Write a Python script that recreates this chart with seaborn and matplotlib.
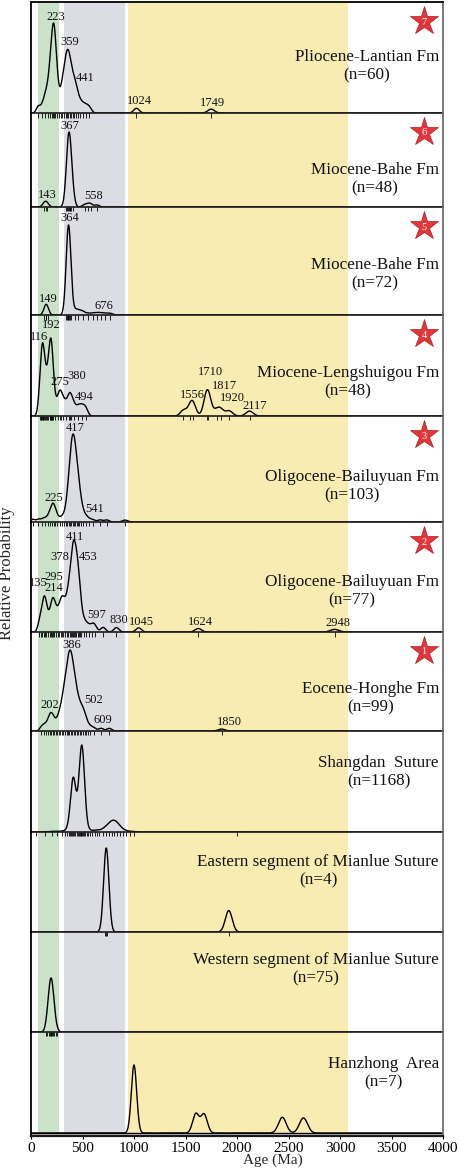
import numpy as np
import pandas as pd
import matplotlib
matplotlib.use("Agg")
import matplotlib.pyplot as plt
import seaborn as sns

sns.set_theme(style="white")
plt.rcParams["font.family"] = ["Liberation Serif", "DejaVu Serif"]

# ---------------------------------------------------------------------------
# Samples, top to bottom
# ---------------------------------------------------------------------------
SAMPLE_NAMES = [
    "Pliocene-Lantian Fm", "Miocene-Bahe Fm", "Miocene-Bahe Fm",
    "Miocene-Lengshuigou Fm", "Oligocene-Bailuyuan Fm", "Oligocene-Bailuyuan Fm",
    "Eocene-Honghe Fm", "Shangdan  Suture", "Eastern segment of Mianlue Suture",
    "Western segment of Mianlue Suture", "Hanzhong  Area",
]
GRAIN_TOTALS = [60, 48, 72, 48, 103, 77, 99, 1168, 4, 75, 7]
SITE_NUMBERS = ["7", "6", "5", "4", "3", "2", "1", None, None, None, None]

# Detrital zircon U-Pb ages (Ma) and number of grains at each age
LANTIAN_AGES = [70, 110, 140, 165, 185, 200, 212, 223, 237, 252, 270, 290, 305, 320,
                335, 350, 362, 375, 390, 405, 420, 438, 455, 475, 500, 530, 565,
                1024, 1749]
LANTIAN_COUNTS = [1, 1, 2, 2, 3, 3, 4, 5, 4, 2, 1, 1, 2, 2,
                  3, 3, 3, 3, 2, 2, 2, 2, 1, 1, 1, 1, 1,
                  1, 1]

BAHE_A_AGES = [125, 143, 160, 340, 352, 360, 367, 374, 382, 392, 405, 520, 558, 580, 640]
BAHE_A_COUNTS = [1, 1, 1, 2, 4, 7, 9, 7, 5, 4, 3, 1, 1, 1, 1]

BAHE_B_AGES = [130, 145, 150, 165, 340, 350, 357, 364, 370, 378, 388,
               430, 460, 500, 550, 600, 640, 676, 720, 770]
BAHE_B_COUNTS = [1, 2, 2, 1, 2, 5, 10, 16, 12, 6, 3,
                 2, 2, 2, 1, 1, 1, 1, 1, 1]

LENGSHUIGOU_AGES = [85, 95, 100, 108, 113, 118, 124, 140, 150, 158, 166, 180, 186, 190,
                    195, 201, 205, 212, 232, 265, 278, 290, 310, 335, 365, 378, 392,
                    420, 460, 494, 530,
                    1480, 1545, 1571, 1707, 1722, 1805, 1843, 1924, 2122]
LENGSHUIGOU_COUNTS = [1, 1, 1, 1, 2, 2, 1, 1, 1, 1, 1, 1, 1, 2,
                      2, 1, 1, 1, 1, 1, 1, 1, 1, 1, 1, 1, 1,
                      1, 1, 1, 1,
                      1, 1, 2, 3, 2, 1, 1, 1, 1]

BAILUYUAN_A_AGES = [20, 70, 110, 140, 165, 185, 205, 220, 235, 255, 280,
                    305, 320, 335, 350, 365, 380, 392, 405, 417, 430, 443, 456, 470,
                    485, 500, 530, 560, 600, 670, 735, 913]
BAILUYUAN_A_COUNTS = [1, 1, 1, 1, 1, 2, 3, 3, 2, 1, 1,
                      1, 1, 1, 3, 5, 8, 9, 10, 11, 8, 7, 6, 4,
                      3, 2, 2, 1, 1, 1, 1, 1]

BAILUYUAN_B_AGES = [80, 95, 110, 122, 135, 150, 165, 180, 195, 205, 214, 228, 245, 262,
                    275, 288, 300, 315, 330, 350, 362, 374, 386, 398, 408, 416, 428,
                    440, 452, 464, 476, 490, 510, 530, 560, 597, 620, 700, 830,
                    1045, 1624, 2948]
BAILUYUAN_B_COUNTS = [1, 1, 1, 2, 3, 1, 1, 1, 1, 1, 3, 1, 2, 1,
                      1, 2, 2, 2, 2, 2, 2, 3, 2, 3, 5, 4, 3,
                      4, 4, 3, 2, 1, 1, 1, 1, 1, 1, 1, 1,
                      1, 1, 1]

HONGHE_AGES = [100, 125, 145, 165, 180, 195, 210, 225, 240, 255, 270, 285, 300, 315,
               330, 345, 360, 373, 386, 400, 415, 430, 445, 460, 475, 490, 505, 520,
               535, 550, 575, 610, 680, 760, 1850]
HONGHE_COUNTS = [1, 1, 1, 1, 2, 2, 2, 1, 1, 1, 2, 2, 3, 4,
                 5, 6, 7, 7, 8, 7, 6, 5, 4, 3, 3, 2, 3, 2,
                 1, 1, 1, 1, 1, 1, 1]

SHANGDAN_AGES = [50, 136, 200, 250, 300, 330, 350, 365, 380, 392, 402, 411, 421, 432,
                 442, 452, 462, 472, 482, 490, 498, 507, 517, 528, 540, 555, 575, 590,
                 620, 640, 660, 700, 730, 760, 785, 810, 835, 860, 890, 920, 960, 1000,
                 2003]
SHANGDAN_COUNTS = [1, 2, 3, 3, 4, 2, 5, 10, 20, 40, 70, 103, 66, 28,
                   16, 18, 26, 50, 90, 120, 132, 90, 40, 16, 6, 3, 4, 3,
                   4, 4, 6, 12, 18, 26, 30, 32, 26, 18, 10, 5, 3, 2,
                   1]

EAST_MIANLUE_AGES = [720, 730, 742, 1920]
EAST_MIANLUE_COUNTS = [1, 1, 1, 1]

WEST_MIANLUE_AGES = [150, 160, 170, 180, 190, 198, 207, 217, 227, 238, 250]
WEST_MIANLUE_COUNTS = [2, 4, 7, 10, 13, 13, 11, 8, 4, 2, 1]

HANZHONG_AGES = [1000, 1600, 1680, 2440, 2645]
HANZHONG_COUNTS = [3, 1, 1, 1, 1]

# Peak ages annotated on each curve
LANTIAN_PEAKS = [223, 359, 441, 1024, 1749]
BAHE_A_PEAKS = [143, 367, 558]
BAHE_B_PEAKS = [149, 364, 676]
LENGSHUIGOU_PEAKS = [116, 192, 275, 380, 494, 1556, 1710, 1817, 1920, 2117]
BAILUYUAN_A_PEAKS = [225, 417, 541]
BAILUYUAN_B_PEAKS = [135, 214, 295, 378, 411, 453, 597, 830, 1045, 1624, 2948]
HONGHE_PEAKS = [202, 386, 502, 609, 1850]

# Age domains shaded behind all panels (Ma)
DOMAIN_RANGES = [(65, 272), (324, 913), (946, 3077)]

AGE_TICKS = [0, 500, 1000, 1500, 2000, 2500, 3000, 3500, 4000]

SAMPLE_AGES = [LANTIAN_AGES, BAHE_A_AGES, BAHE_B_AGES, LENGSHUIGOU_AGES,
               BAILUYUAN_A_AGES, BAILUYUAN_B_AGES, HONGHE_AGES, SHANGDAN_AGES,
               EAST_MIANLUE_AGES, WEST_MIANLUE_AGES, HANZHONG_AGES]
SAMPLE_COUNTS = [LANTIAN_COUNTS, BAHE_A_COUNTS, BAHE_B_COUNTS, LENGSHUIGOU_COUNTS,
                 BAILUYUAN_A_COUNTS, BAILUYUAN_B_COUNTS, HONGHE_COUNTS, SHANGDAN_COUNTS,
                 EAST_MIANLUE_COUNTS, WEST_MIANLUE_COUNTS, HANZHONG_COUNTS]
SAMPLE_PEAKS = [LANTIAN_PEAKS, BAHE_A_PEAKS, BAHE_B_PEAKS, LENGSHUIGOU_PEAKS,
                BAILUYUAN_A_PEAKS, BAILUYUAN_B_PEAKS, HONGHE_PEAKS, [], [], [], []]

# ---------------------------------------------------------------------------
# Layout (pixels on a 460 x 1171 canvas)
# ---------------------------------------------------------------------------
FIG_W, FIG_H = 460, 1171
PLOT_LEFT, PLOT_RIGHT = 31, 443
PANEL_EDGES = [(2, 113), (113, 207), (207, 315), (315, 416), (416, 522), (522, 632),
               (632, 731), (731, 832), (832, 932), (932, 1032), (1032, 1136)]
BASELINE_LIFT = [0] * 10 + [3]           # gap between curve baseline and panel bottom
PEAK_HEIGHT = [90, 75, 90, 78, 88, 92, 81, 87, 84, 54, 68]   # tallest peak, px
TITLE_DROP = [64, 66, 67, 67, 70, 69, 66, 41, 39, 37, 41]     # text centre below panel top
STAR_DROP = 19

LABEL_SHIFT = [
    [(2, 7), (2, 7), (9, 7), (3, 7), (1, 6)],
    [(2, 6), (1, 6), (5, 7)],
    [(2, 5), (1, 7), (3, 7)],
    [(-4, 6), (1, 13), (1, 9), (7, 17), (2, 7), (1, 6), (3, 18), (6, 21), (4, 13), (6, 5)],
    [(0, 6), (1, 7), (8, 6)],
    [(-7, 13), (1, 10), (-8, 20), (-10, 12), (2, 4), (10, 2), (4, 8), (2, 8), (3, 6),
     (2, 6), (3, 6)],
    [(-2, 8), (1, 6), (11, 6), (9, 7), (8, 7)],
    [], [], [], [],
]

DOMAIN_COLORS = ["#c9e2c9", "#dcdce5", "#f8ecb2"]
STAR_RED = "#e1363b"


def uncertainty(age):
    """1-sigma analytical uncertainty (Ma) assumed for a grain age."""
    return 18.0 + 0.008 * age


def probability_density(grid, ages, counts):
    """Probability density plot: sum of normal distributions, one per grain."""
    a = np.asarray(ages, float)[:, None]
    w = np.asarray(counts, float)[:, None]
    s = uncertainty(a)
    dens = w * np.exp(-0.5 * ((grid[None, :] - a) / s) ** 2) / (s * np.sqrt(2 * np.pi))
    return dens.sum(axis=0) / w.sum()


def px_axes(fig, top, bottom):
    return fig.add_axes([PLOT_LEFT / FIG_W, 1 - bottom / FIG_H,
                         (PLOT_RIGHT - PLOT_LEFT) / FIG_W, (bottom - top) / FIG_H])


fig = plt.figure(figsize=(FIG_W / 100, FIG_H / 100), dpi=100)

# shaded age domains spanning every panel
bg = px_axes(fig, PANEL_EDGES[0][0], PANEL_EDGES[-1][1])
bg.set_xlim(0, 4000)
bg.set_ylim(0, 1)
for (lo, hi), col in zip(DOMAIN_RANGES, DOMAIN_COLORS):
    bg.axvspan(lo, hi, color=col, lw=0)
bg.axis("off")

grid = np.arange(0, 4001, 1.0)
n_panels = len(SAMPLE_NAMES)

for i in range(n_panels):
    top, bottom = PANEL_EDGES[i]
    H = bottom - top
    ax = px_axes(fig, top, bottom)
    ax.set_facecolor("none")

    dens = probability_density(grid, SAMPLE_AGES[i], SAMPLE_COUNTS[i])
    curve = pd.DataFrame({"age": grid, "density": dens})
    sns.lineplot(data=curve, x="age", y="density", ax=ax, color="black",
                 linewidth=1.0, estimator=None, sort=False)

    span = dens.max() * H / PEAK_HEIGHT[i]
    y_low = -BASELINE_LIFT[i] / H * span
    ax.set_xlim(0, 4000)
    ax.set_ylim(y_low, y_low + span)
    ax.set_xlabel("")
    ax.set_ylabel("")
    ax.set_yticks([])

    last = i == n_panels - 1
    if not last:
        sns.rugplot(x=np.asarray(SAMPLE_AGES[i], float), ax=ax, height=-0.042,
                    color="black", linewidth=0.6, clip_on=False, expand_margins=False)
        ax.set_ylim(y_low, y_low + span)

    for side in ["left", "right", "top", "bottom"]:
        ax.spines[side].set_visible(True)
    ax.spines["left"].set_color("black")
    ax.spines["left"].set_linewidth(1.3)
    ax.spines["right"].set_color("#6e6e6e")
    ax.spines["right"].set_linewidth(1.3)
    ax.spines["bottom"].set_color("#1a1a1a")
    ax.spines["bottom"].set_linewidth(1.2)
    ax.spines["top"].set_visible(i == 0)
    ax.spines["top"].set_color("black")
    ax.spines["top"].set_linewidth(1.3)

    if last:
        ax.axhspan(y_low, 0, color="#d9d9d9", lw=0, zorder=0.5)
        ax.axhline(0, color="black", lw=1.0)
        ax.spines["bottom"].set_linewidth(1.6)
        ax.set_xticks(AGE_TICKS)
        ax.set_xticklabels([str(t) for t in AGE_TICKS])
        ax.tick_params(axis="x", bottom=True, length=2.5, width=0.8, pad=2,
                       labelsize=11, colors="black")
    else:
        ax.set_xticks([])

    # sample name and grain total
    ax.annotate(f"{SAMPLE_NAMES[i]}\n(n={GRAIN_TOTALS[i]})",
                xy=(0.99, 1.0), xycoords="axes fraction",
                xytext=(0, -TITLE_DROP[i]), textcoords="offset pixels",
                ha="right", va="center", multialignment="center",
                fontsize=12.3, linespacing=1.15, color="#111111")

    # sampling site marker
    if SITE_NUMBERS[i] is not None:
        sx = (424 - PLOT_LEFT) / (PLOT_RIGHT - PLOT_LEFT)
        sy = 1 - STAR_DROP / H
        ax.plot([sx], [sy], marker="*", markersize=21, color=STAR_RED,
                markeredgecolor="#a81f24", markeredgewidth=0.5,
                transform=ax.transAxes, clip_on=False, zorder=5)
        ax.text(sx, sy - 0.01, SITE_NUMBERS[i], transform=ax.transAxes,
                ha="center", va="center", fontsize=7.5, color="white", zorder=6)

    # peak ages
    for age, (dx, dy) in zip(SAMPLE_PEAKS[i], LABEL_SHIFT[i]):
        y_at = np.interp(age, grid, dens)
        ax.annotate(str(age), xy=(age, y_at), xycoords="data",
                    xytext=(dx, dy), textcoords="offset pixels",
                    ha="center", va="center", fontsize=9, color="#111111", zorder=6)

fig.text(273 / FIG_W, 1 - 1160 / FIG_H, "Age (Ma)", ha="center", va="center",
         fontsize=11)
fig.text(7 / FIG_W, 1 - 573 / FIG_H, "Relative Probability", rotation=90,
         ha="center", va="center", fontsize=12)

fig.savefig("out.png", dpi=100)
